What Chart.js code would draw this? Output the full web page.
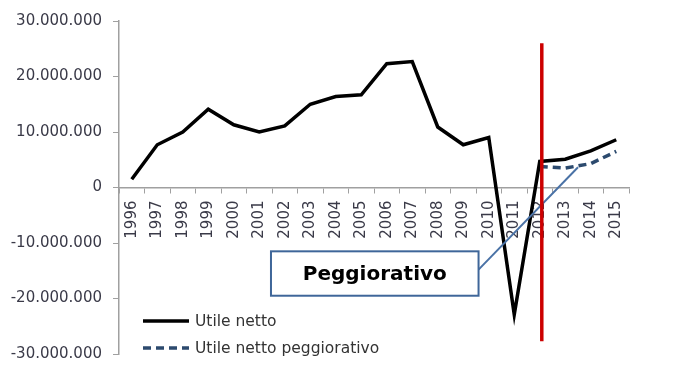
<!DOCTYPE html>
<html>
<head>
<meta charset="utf-8">
<script src="https://cdn.jsdelivr.net/npm/chart.js@4.4.1/dist/chart.umd.min.js"></script>
<style>
html,body{margin:0;padding:0;background:#fff;}
#wrap{width:684px;height:378px;}
</style>
</head>
<body>
<div id="wrap"><canvas id="Chart1" width="684" height="378"></canvas></div>
<script>
// anni e valori
var years = ["1996","1997","1998","1999","2000","2001","2002","2003","2004","2005",
             "2006","2007","2008","2009","2010","2011","2012","2013","2014","2015"];
var utileNetto = [1500000, 7700000, 10000000, 14100000, 11300000, 10000000, 11100000, 15000000, 16400000, 16700000,
                  22300000, 22700000, 10900000, 7700000, 9000000, -22900000, 4700000, 5100000, 6600000, 8600000];
var utilePeggiorativo = [null, null, null, null, null, null, null, null, null, null,
                         null, null, null, null, null, null, 3800000, 3500000, 4300000, 6500000];
var yTicks = [-30000000, -20000000, -10000000, 0, 10000000, 20000000, 30000000];
var seriesNames = ["Utile netto", "Utile netto peggiorativo"];
var calloutText = "Peggiorativo";

var FONT = "'DejaVu Sans', sans-serif";

function formatIt(v){
    var s = Math.abs(v).toString().replace(/\B(?=(\d{3})+(?!\d))/g, ".");
    return (v < 0 ? "-" : "") + s;
}

// linea rossa, riquadro e freccia
var extras = {
    id: "extras",
    afterDatasetsDraw: function(chart){
        var ctx = chart.ctx;
        var xs = chart.scales.x, ys = chart.scales.y;
        var ca = chart.chartArea;
        ctx.save();

        // freccia dal riquadro
        var bx1 = xs.getPixelForValue(5.46), bx2 = xs.getPixelForValue(13.6);
        var by1 = ys.getPixelForValue(-11.5e6), by2 = ys.getPixelForValue(-19.5e6);
        ctx.strokeStyle = "#4a72a6";
        ctx.lineWidth = 2;
        ctx.beginPath();
        ctx.moveTo(bx2, ys.getPixelForValue(-14.8e6));
        ctx.lineTo(xs.getPixelForValue(17.5), ys.getPixelForValue(3.66e6));
        ctx.stroke();

        // linea rossa verticale
        ctx.strokeStyle = "#cc0000";
        ctx.lineWidth = 3.5;
        ctx.beginPath();
        var rx = xs.getPixelForValue(16.08);
        ctx.moveTo(rx, ys.getPixelForValue(26e6));
        ctx.lineTo(rx, ys.getPixelForValue(-27.7e6));
        ctx.stroke();

        // riquadro
        ctx.fillStyle = "#fff";
        ctx.fillRect(bx1, by1, bx2 - bx1, by2 - by1);
        ctx.strokeStyle = "#3f6699";
        ctx.lineWidth = 2;
        ctx.strokeRect(bx1, by1, bx2 - bx1, by2 - by1);
        ctx.fillStyle = "#000";
        ctx.font = "bold 20px " + FONT;
        ctx.textAlign = "center";
        ctx.textBaseline = "middle";
        ctx.fillText(calloutText, (bx1 + bx2) / 2, (by1 + by2) / 2 + 1);

        // legenda
        ctx.font = "15.5px " + FONT;
        ctx.textAlign = "left";
        var lx = ca.left + 24;
        for (var i = 0; i < chart.data.datasets.length; i++) {
            var ds = chart.data.datasets[i];
            var ly = ca.bottom - 33 + i * 27;
            ctx.strokeStyle = ds.borderColor;
            ctx.lineWidth = 3.5;
            ctx.setLineDash(ds.borderDash || []);
            ctx.beginPath();
            ctx.moveTo(lx, ly);
            ctx.lineTo(lx + 46, ly);
            ctx.stroke();
            ctx.setLineDash([]);
            ctx.fillStyle = "#333";
            ctx.fillText(ds.label, lx + 52, ly + 1);
        }
        ctx.restore();
    }
};

var compctx = document.getElementById("Chart1").getContext("2d");
window.main_chart = new Chart(compctx, {
    type: "line",
    data: {
        labels: years,
        datasets: [{
            label: seriesNames[0],
            data: utileNetto,
            borderColor: "#000000",
            borderWidth: 3.5,
            borderJoinStyle: "miter",
            pointRadius: 0,
            tension: 0,
            fill: false
        }, {
            label: seriesNames[1],
            data: utilePeggiorativo,
            borderColor: "#2c4a6e",
            borderWidth: 3.5,
            borderDash: [8, 5],
            pointRadius: 0,
            tension: 0,
            fill: false
        }]
    },
    options: {
        responsive: false,
        animation: false,
        layout: { padding: { top: 21, right: 55, bottom: 24, left: 0 } },
        plugins: { legend: { display: false }, tooltip: { enabled: false } },
        scales: {
            x: {
                position: { y: 0 },
                offset: true,
                grid: { offset: true, drawOnChartArea: false, drawTicks: true, tickLength: 5, color: "#a0a0a0" },
                border: { color: "#a0a0a0", width: 1.5 },
                ticks: {
                    minRotation: 90, maxRotation: 90, autoSkip: false, padding: 8,
                    color: "#3a3a48", font: { family: FONT, size: 15 }
                }
            },
            y: {
                min: -30000000, max: 30000000,
                afterBuildTicks: function(scale){
                    scale.ticks = yTicks.map(function(v){ return { value: v }; });
                },
                afterFit: function(scale){ scale.width = 119; },
                grid: { drawOnChartArea: false, drawTicks: true, tickLength: 6, color: "#a0a0a0" },
                border: { color: "#a0a0a0", width: 1.5 },
                ticks: {
                    padding: 11,
                    color: "#3a3a48", font: { family: FONT, size: 15 },
                    callback: function(v){ return formatIt(v); }
                }
            }
        }
    },
    plugins: [extras]
});
</script>
</body>
</html>
